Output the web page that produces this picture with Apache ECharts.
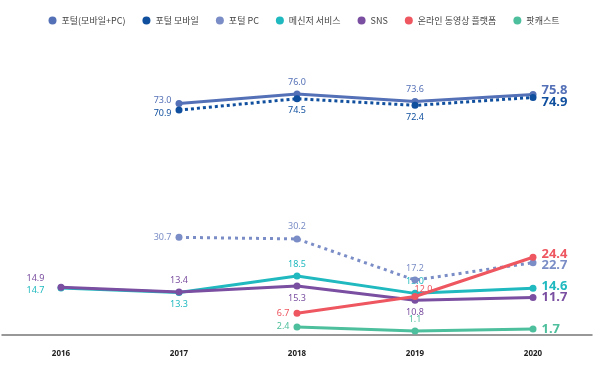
<!DOCTYPE html>
<html><head><meta charset="utf-8">
<script src="https://cdn.jsdelivr.net/npm/echarts@6/dist/echarts.min.js"></script>
<style>html,body{margin:0;padding:0;background:#fff}#c{width:608px;height:365px}</style>
</head><body><div id="c"></div>
<script>
const years = ['2016','2017','2018','2019','2020'];
const seriesNames = ['포털(모바일+PC)','포털 모바일','포털 PC','메신저 서비스','SNS','온라인 동영상 플랫폼','팟캐스트'];
const portalTotal = [null, 73.0, 76.0, 73.6, 75.8];
const portalMobile = [null, 70.9, 74.5, 72.4, 74.9];
const portalPC = [null, 30.7, 30.2, 17.2, 22.7];
const messenger = [14.7, 13.3, 18.5, 13.0, 14.6];
const sns = [14.9, 13.4, 15.3, 10.8, 11.7];
const video = [null, null, 6.7, 12.0, 24.4];
const podcast = [null, null, 2.4, 1.1, 1.7];

const colors = ['#5470b6','#0f4f9e','#7b8dc6','#1fb9bf','#7a4ea0','#ee5660','#4dbf9c'];
const values = [portalTotal, portalMobile, portalPC, messenger, sns, video, podcast];
const labelPos = [
  [null,'left','top','top','right'],
  [null,'left','bottom','bottom','right'],
  [null,'left','top','top','right'],
  [[-22,6],'bottom','top','top','right'],
  [[-22,-5],'top','bottom','bottom','right'],
  [null,null,'left',[12,-4],'right'],
  [null,null,'left','top','right']
];
const labelOffsetY = [
  [0,-3,0,0,-4],
  [0,3,0,0,5],
  [0,0,0,0,3],
  [0,0,0,0,-2],
  [0,0,0,0,0],
  [0,0,0,0,-3],
  [0,0,0,0,0]
];
const lineTypes = ['solid',[3,3],[3,4],'solid','solid','solid','solid'];
const z = [5,6,4,3,4,5,3];

const series = values.map((vals, si) => ({
  name: seriesNames[si],
  type: 'line',
  z: z[si],
  symbol: 'circle',
  symbolSize: 7,
  itemStyle: {color: colors[si]},
  lineStyle: {width: 3, type: lineTypes[si], color: colors[si]},
  data: vals.map((v, i) => {
    if (v === null) return null;
    const last = i === vals.length - 1;
    let pos = labelPos[si][i];
    const lab = {
      show: true,
      color: colors[si],
      fontFamily: 'Noto Sans',
      fontSize: last ? 13 : 9,
      fontWeight: last ? 'bold' : 'normal',
      formatter: (p) => p.value.toFixed(1),
      distance: last ? 5 : 4,
      offset: [0, labelOffsetY[si][i]]
    };
    if (Array.isArray(pos)) { lab.position = pos; lab.align = 'center'; lab.verticalAlign = 'middle'; }
    else lab.position = pos;
    return {value: v, label: lab};
  })
}));

const chart = echarts.init(document.getElementById('c'), null, {renderer: 'canvas'});
chart.setOption({
  animation: false,
  color: colors,
  legend: {
    top: 11, left: 'center', itemGap: 17,
    icon: 'circle', itemWidth: 8, itemHeight: 8,
    textStyle: {fontSize: 9, color: '#444', fontFamily: 'Noto Sans CJK KR'},
    data: seriesNames
  },
  grid: {left: 2, right: 16, top: 18, bottom: 21},
  xAxis: {
    type: 'category', data: years, boundaryGap: true,
    axisLine: {lineStyle: {color: '#777', width: 1.5}},
    axisTick: {show: false},
    axisLabel: {color: '#222', fontSize: 8, fontWeight: 'bold', fontFamily: 'Noto Sans', margin: 6}
  },
  yAxis: {
    type: 'value', min: -3, max: 100,
    show: false, splitLine: {show: false}
  },
  series: series
});
</script></body></html>
